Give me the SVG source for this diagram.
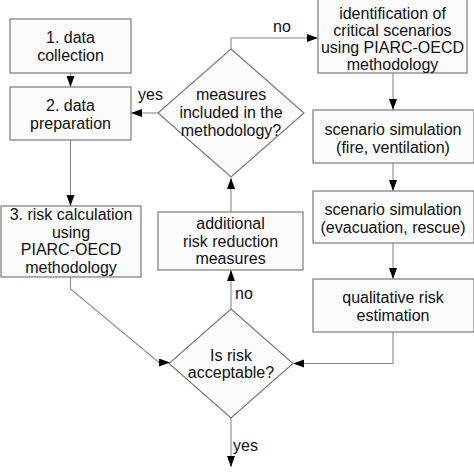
<svg xmlns="http://www.w3.org/2000/svg" width="474" height="474" viewBox="0 0 474 474">
<defs>
<marker id="ah" markerUnits="userSpaceOnUse" markerWidth="12" markerHeight="9" refX="11" refY="4" orient="auto">
<path d="M0,0 L11,4 L0,8 z" fill="#000"/>
</marker>
<style>
.box{fill:#fbfbfb;stroke:#7a7a7a;stroke-width:1.2}
.ln{fill:none;stroke:#8a8a8a;stroke-width:1.1;marker-end:url(#ah)}
text{font-family:"Liberation Sans",Arial,sans-serif;font-size:16px;fill:#111;text-anchor:middle}
.lbl{text-anchor:start}
</style>
</defs>
<rect width="474" height="474" fill="#fff"/>
<g id="connectors">
<path class="ln" d="M70.5,73 V87"/>
<path class="ln" d="M70.5,140 V206"/>
<path class="ln" d="M70.5,277 V289 L159,362.5 H170"/>
<path class="ln" d="M393,332 V363.5 H293"/>
<path class="ln" d="M231,418 V467"/>
<path class="ln" d="M231,309 V270"/>
<path class="ln" d="M231,212 V178"/>
<path class="ln" d="M158,113 H131"/>
<path class="ln" d="M231,49 V38 H318"/>
<path class="ln" d="M393,73 V110"/>
<path class="ln" d="M393,163 V191"/>
<path class="ln" d="M393,243 V279"/>
<text class="lbl" x="138" y="100">yes</text>
<text class="lbl" x="273" y="32">no</text>
<text class="lbl" x="235" y="299">no</text>
<text class="lbl" x="233" y="451">yes</text>
</g>
<g id="n1">
<rect class="box" x="10" y="19" width="121" height="54"/>
<text x="70.5" y="43">1. data</text>
<text x="70.5" y="61">collection</text>
</g>
<g id="n2">
<rect class="box" x="10" y="87" width="121" height="53"/>
<text x="70.5" y="111">2. data</text>
<text x="70.5" y="128.5">preparation</text>
</g>
<g id="n3">
<rect class="box" x="1" y="206" width="140" height="71"/>
<text x="71" y="220">3. risk calculation</text>
<text x="71" y="237.7">using</text>
<text x="71" y="255.4">PIARC-OECD</text>
<text x="71" y="273">methodology</text>
</g>
<g id="d1">
<polygon class="box" points="231,49 304,113 231,177 158,113"/>
<text x="231" y="100">measures</text>
<text x="231" y="118">included in the</text>
<text x="231" y="136">methodology?</text>
</g>
<g id="n4">
<rect class="box" x="318" y="-1" width="149" height="74"/>
<text x="392.5" y="19">identification of</text>
<text x="392.5" y="36">critical scenarios</text>
<text x="392.5" y="53.3">using PIARC-OECD</text>
<text x="392.5" y="70">methodology</text>
</g>
<g id="n5">
<rect class="box" x="313" y="110" width="161" height="53"/>
<text x="393" y="135">scenario simulation</text>
<text x="393" y="152.5">(fire, ventilation)</text>
</g>
<g id="n6">
<rect class="box" x="313" y="191" width="161" height="52"/>
<text x="393" y="215">scenario simulation</text>
<text x="393" y="232.5">(evacuation, rescue)</text>
</g>
<g id="n7">
<rect class="box" x="313" y="279" width="161" height="53"/>
<text x="393" y="303">qualitative risk</text>
<text x="393" y="321">estimation</text>
</g>
<g id="n8">
<rect class="box" x="158" y="212" width="145" height="58"/>
<text x="230.5" y="229">additional</text>
<text x="230.5" y="246.7">risk reduction</text>
<text x="230.5" y="264">measures</text>
</g>
<g id="d2">
<polygon class="box" points="231,309 293,363.5 231,418 169,363.5"/>
<text x="231" y="361">Is risk</text>
<text x="231" y="378">acceptable?</text>
</g>
</svg>
